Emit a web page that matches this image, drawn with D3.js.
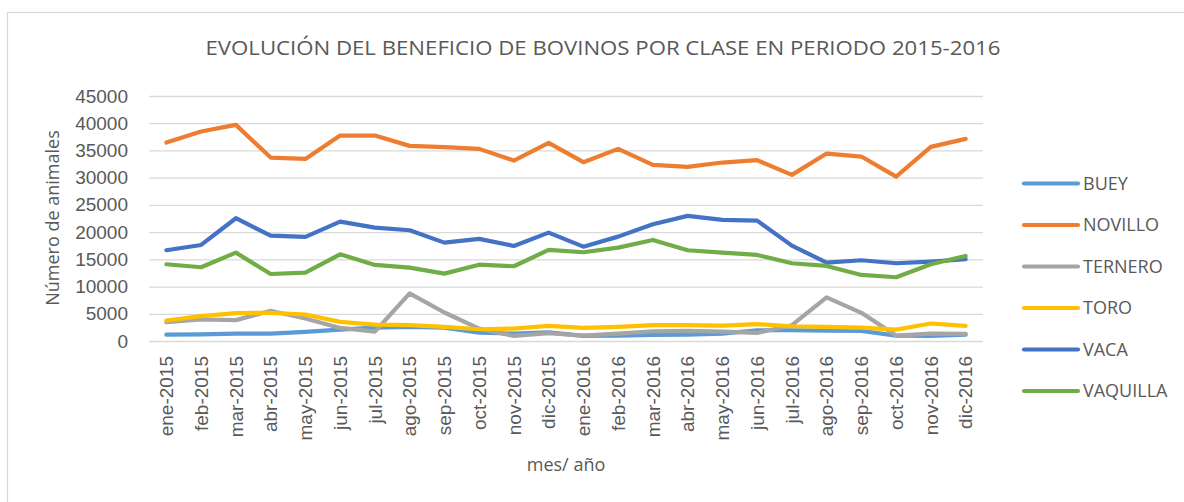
<!DOCTYPE html>
<html>
<head>
<meta charset="utf-8">
<script src="https://cdn.jsdelivr.net/npm/d3@7"></script>
<style>
  body { margin: 0; background: #fff; }
  svg { display: block; font-family: "Open Sans", "Liberation Sans", sans-serif; }
  .grid line { stroke: #d9d9d9; stroke-width: 1.3; }
  .tick text { fill: #595959; }
</style>
</head>
<body>
<svg id="chart"></svg>
<script>
// Data;
const months = [
    'ene-2015', 'feb-2015', 'mar-2015', 'abr-2015', 'may-2015', 'jun-2015',
    'jul-2015', 'ago-2015', 'sep-2015', 'oct-2015', 'nov-2015', 'dic-2015',
    'ene-2016', 'feb-2016', 'mar-2016', 'abr-2016', 'may-2016', 'jun-2016',
    'jul-2016', 'ago-2016', 'sep-2016', 'oct-2016', 'nov-2016', 'dic-2016'
];
const buey = [1170, 1230, 1360, 1360, 1670, 2100, 2470, 2590, 2470, 1540, 1360, 1600,
    930, 990, 1110, 1170, 1360, 1970, 1970, 1910, 1850, 990, 930, 1170];
const novillo = [36450, 38470, 39700, 33690, 33450, 37730, 37730, 35840, 35600, 35290, 33140, 36390,
    32840, 35290, 32350, 31980, 32780, 33210, 30510, 34430, 33880, 30200, 35660, 37130];
const ternero = [3450, 3950, 3830, 5550, 4130, 2400, 1730, 8760, 5240, 2280, 930, 1420,
    990, 1360, 1790, 1850, 1730, 1480, 2900, 8020, 5180, 990, 1360, 1300];
const toro = [3760, 4570, 5120, 5180, 4870, 3520, 3020, 2900, 2590, 2160, 2280, 2780,
    2410, 2590, 2900, 2900, 2840, 3090, 2710, 2590, 2470, 2100, 3210, 2780];
const vaca = [16670, 17640, 22550, 19360, 19120, 21930, 20830, 20340, 18070, 18750, 17460, 19910,
    17330, 19170, 21450, 22980, 22240, 22110, 17520, 14390, 14830, 14280, 14580, 15020];
const vaquilla = [14100, 13550, 16230, 12310, 12560, 15930, 13970, 13480, 12370, 14020, 13730, 16730,
    16300, 17150, 18560, 16670, 16230, 15810, 14280, 13790, 12130, 11710, 14100, 15620];
const yTicks = [0, 5000, 10000, 15000, 20000, 25000, 30000, 35000, 40000, 45000];

const series = [
    { name: 'BUEY', values: buey, color: '#5b9bd5' },
    { name: 'NOVILLO', values: novillo, color: '#ed7d31' },
    { name: 'TERNERO', values: ternero, color: '#a5a5a5' },
    { name: 'TORO', values: toro, color: '#ffc000' },
    { name: 'VACA', values: vaca, color: '#4472c4' },
    { name: 'VAQUILLA', values: vaquilla, color: '#70ad47' }
];

const width = 1184;
const height = 502;
const margin = { top: 96, left: 149, right: 983, bottom: 341 };

const svg = d3.select('#chart').attr('width', width).attr('height', height);

// Chart border (runs off the right and bottom edges);
svg.append('rect')
    .attr('x', 7.5).attr('y', 12.5)
    .attr('width', 1200).attr('height', 520)
    .attr('fill', '#fff')
    .attr('stroke', '#d9d9d9')
    .attr('stroke-width', 1.3);

// Scales;
const x = d3.scaleBand().domain(months).range([margin.left, margin.right]);
const y = d3.scaleLinear().domain([0, 45000]).range([margin.bottom, margin.top]);

// Gridlines + y axis labels;
const yAxis = svg.append('g')
    .attr('class', 'grid')
    .attr('transform', `translate(${margin.left},0)`)
    .call(d3.axisLeft(y).tickValues(yTicks).tickSize(-(margin.right - margin.left)).tickPadding(21).tickFormat(d3.format('d')));
yAxis.select('.domain').remove();
yAxis.selectAll('text').style('font-size', '19px');

// X axis labels;
const xAxis = svg.append('g')
    .attr('transform', `translate(0,${margin.bottom})`)
    .call(d3.axisBottom(x).tickSize(0));
xAxis.select('.domain').remove();
xAxis.selectAll('text')
    .style('font-size', '19px')
    .attr('transform', 'rotate(-90)')
    .attr('text-anchor', 'end')
    .attr('x', -15)
    .attr('y', 0)
    .attr('dy', '0.35em');

// Lines;
const line = d3.line()
    .x((d, i) => x(months[i]) + x.bandwidth() / 2)
    .y((d) => y(d));

svg.selectAll('.series')
    .data(series)
    .enter()
    .append('path')
    .attr('class', 'series')
    .attr('fill', 'none')
    .attr('stroke', (d) => d.color)
    .attr('stroke-width', 4.2)
    .attr('stroke-linejoin', 'round')
    .attr('stroke-linecap', 'round')
    .attr('d', (d) => line(d.values));

// Title;
svg.append('text')
    .attr('x', 603).attr('y', 55)
    .attr('text-anchor', 'middle')
    .attr('fill', '#595959')
    .style('font-size', '20px')
    .attr('textLength', 795)
    .attr('lengthAdjust', 'spacingAndGlyphs')
    .text('EVOLUCIÓN DEL BENEFICIO DE BOVINOS POR CLASE EN PERIODO 2015-2016');

// Axis titles;
svg.append('text')
    .attr('transform', 'translate(59,218) rotate(-90)')
    .attr('text-anchor', 'middle')
    .attr('fill', '#595959')
    .style('font-size', '18px')
    .text('Número de animales');

svg.append('text')
    .attr('x', 566).attr('y', 471)
    .attr('text-anchor', 'middle')
    .attr('fill', '#595959')
    .style('font-size', '18px')
    .text('mes/ año');

// Legend;
const legend = svg.selectAll('.legend')
    .data(series)
    .enter()
    .append('g')
    .attr('class', 'legend')
    .attr('transform', (d, i) => `translate(1024,${183.5 + i * 41.5})`);

legend.append('line')
    .attr('x1', 0).attr('x2', 54)
    .attr('stroke', (d) => d.color)
    .attr('stroke-width', 4.2)
    .attr('stroke-linecap', 'round');

legend.append('text')
    .attr('x', 59)
    .attr('dy', '0.35em')
    .attr('fill', '#595959')
    .style('font-size', '18px')
    .text((d) => d.name);
</script>
</body>
</html>
